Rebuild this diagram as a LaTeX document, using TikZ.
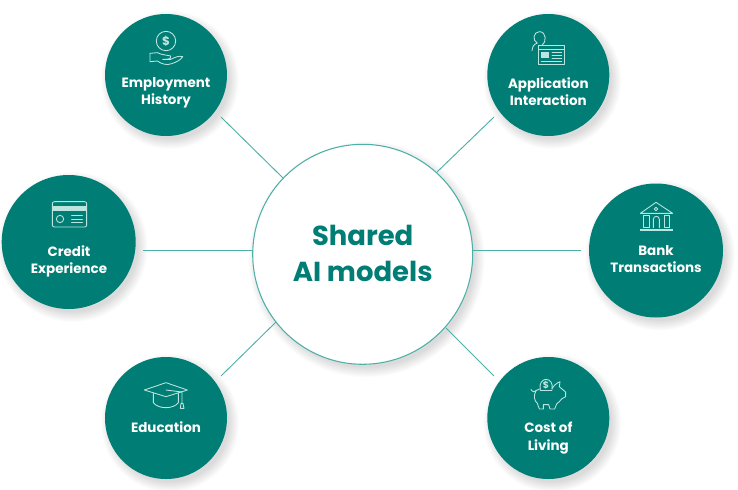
\documentclass[tikz,border=0pt]{standalone}
\usepackage{fontspec}
\setmainfont{Poppins}[BoldFont=* Bold]
\definecolor{teal1}{HTML}{007D74}
\definecolor{ring}{HTML}{4DB0A8}
\definecolor{ico}{HTML}{BDE5DF}
\newcommand{\softshadow}[3]{%
  \foreach \k in {0,...,11}{\fill[black,opacity=0.012] (#1+4,#2+5) circle ({#3+8-\k*0.9});}}
\tikzset{
  hub/.style={circle,fill=white,draw=ring,line width=0.8pt,inner sep=0,minimum size=165pt},
  hubtext/.style={align=center,text=teal1,font=\fontsize{20.6}{26.5}\selectfont\bfseries},
  bubble/.style={circle,fill=teal1,inner sep=0},
  small/.style={bubble,minimum size=91.5pt},
  big/.style={bubble,minimum size=100.5pt},
  caption/.style={text=white,align=center,font=\fontsize{10.1}{12.9}\selectfont\bfseries},
  link/.style={draw=ring,line width=0.7pt},
  icon/.style={draw=ico,line width=0.65pt,line cap=round,line join=round},
  iconfill/.style={fill=ico,draw=none},
  zoomed/.style={x=.25pt,y=-.25pt},
}
\begin{document}
\begin{tikzpicture}[x=.75pt,y=-.75pt]
\useasboundingbox (0,0) rectangle (738,489);
\softshadow{362.7}{254.3}{110}
\softshadow{166}{75}{61}
\softshadow{548.3}{75}{61}
\softshadow{68.7}{242}{67}
\softshadow{656}{250.5}{67}
\softshadow{166}{418}{61}
\softshadow{548.3}{418}{61}
% connector ends
\coordinate (e1) at (221,117); \coordinate (h1) at (283,178);
\coordinate (e2) at (494,117); \coordinate (h2) at (437,172);
\coordinate (e3) at (143,250); \coordinate (h3) at (253,250);
\coordinate (e4) at (581,250); \coordinate (h4) at (473,250);
\coordinate (e5) at (221,376); \coordinate (h5) at (276,322);
\coordinate (e6) at (494,376); \coordinate (h6) at (446,328);
\foreach \i in {1,...,6}{\draw[link] (e\i) -- (h\i);}
\node[hub] (hub) at (362.7,254.3) {};
\node[hubtext] (hubT) at (362.7,253.3) {Shared\\AI models};
\node[small] (emp) at (166,75) {};
\node[small] (app) at (548.3,75) {};
\node[big] (cred) at (68.7,242) {};
\node[big] (bank) at (656,250.5) {};
\node[small] (edu) at (166,418) {};
\node[small] (cost) at (548.3,418) {};
\node[caption] (empT) at (166,93) {Employment\\History};
\node[caption] (appT) at (548.3,91.5) {Application\\Interaction};
\node[caption] (credT) at (69,261) {Credit\\Experience};
\node[caption] (bankT) at (656,259) {Bank\\Transactions};
\node[caption] (eduT) at (166,427) {Education};
\node[caption] (costT) at (548.3,438) {Cost of\\Living};
% Employment icon: coin and hand
\begin{scope}[shift={(100,0)},zoomed]
  \draw[icon] (198,123) circle (29);
  \node[text=ico,font=\fontsize{9}{9}\selectfont\bfseries] (d1) at (198,123) {\$};
  \draw[icon] (150,160) -- (150,185) -- (172,183) .. controls (185,192) and (200,197) .. (215,191)
     .. controls (230,186) and (242,180) .. (248,170) .. controls (238,166) and (225,172) .. (212,178)
     -- (188,178);
  \draw[icon] (150,160) -- (172,158) .. controls (185,165) and (200,165) .. (212,168)
     .. controls (216,175) and (208,178) .. (200,178);
\end{scope}
% Application icon: person and window
\begin{scope}[shift={(480,5)},zoomed]
  \draw[icon] (186,121) .. controls (200,112) and (200,80) .. (178,80)
     .. controls (160,80) and (156,108) .. (172,114) .. controls (160,118) and (158,125) .. (156,137);
  \draw[icon] (175,122) rectangle (253,178);
  \draw[icon] (175,133) -- (253,133);
  \fill[iconfill] (184,141) rectangle (208,158);
  \draw[icon] (216,143) -- (245,143) (216,151) -- (245,151) (216,159) -- (245,159) (184,168) -- (245,168);
\end{scope}
% Credit icon: card
\begin{scope}[shift={(0,175)},zoomed]
  \draw[icon,rounded corners=1.5pt] (157,80) rectangle (260,156);
  \fill[iconfill] (157,93) rectangle (260,108);
  \draw[icon] (180,132) circle (11);
  \draw[icon,line width=.7pt] (215,122) -- (247,122) (215,132) -- (247,132) (215,142) -- (247,142);
\end{scope}
% Bank icon: temple
\begin{scope}[shift={(590,180)},zoomed]
  \draw[icon] (151,100) -- (198,67) -- (248,100) -- cycle;
  \draw[icon] (198,87) circle (5.5);
  \draw[icon] (160,105) rectangle (177,143);
  \draw[icon] (222,105) rectangle (238,143);
  \draw[icon] (190,143) -- (190,118) .. controls (190,106) and (208,106) .. (208,118) -- (208,143);
  \fill[iconfill] (151,146) rectangle (248,152);
\end{scope}
% Education icon: cap
\begin{scope}[shift={(100,350)},zoomed]
  \draw[icon] (133,120) -- (198,98) -- (262,120) -- (198,140) -- cycle;
  \draw[icon] (160,130) -- (160,158) .. controls (175,178) and (220,178) .. (235,158) -- (235,130);
  \draw[icon] (198,120) -- (246,126) -- (246,160);
  \draw[icon] (241,175) -- (243,160) -- (249,160) -- (252,175) -- cycle;
\end{scope}
% Cost icon: piggy bank
\begin{scope}[shift={(480,350)},zoomed]
  \draw[icon] (181,118) .. controls (176,100) and (188,88) .. (198,88)
     .. controls (210,88) and (220,100) .. (216,118);
  \draw[icon] (180,120) -- (216,120);
  \node[text=ico,font=\fontsize{7}{7}\selectfont\bfseries] (d2) at (198,105) {\$};
  \draw[icon] (153,118) .. controls (158,128) and (163,126) .. (168,122) .. controls (174,118) and (178,118) .. (181,116);
  \draw[icon] (216,116) .. controls (220,108) and (228,100) .. (240,95) -- (238,110)
     .. controls (244,114) and (250,122) .. (257,126) -- (257,140) -- (246,146)
     .. controls (240,152) and (236,158) .. (230,162) -- (224,177) -- (210,177) -- (206,164) -- (190,164) -- (190,177) -- (178,177) -- (172,160)
     .. controls (162,152) and (160,136) .. (168,122);
\end{scope}
\end{tikzpicture}
\end{document}
